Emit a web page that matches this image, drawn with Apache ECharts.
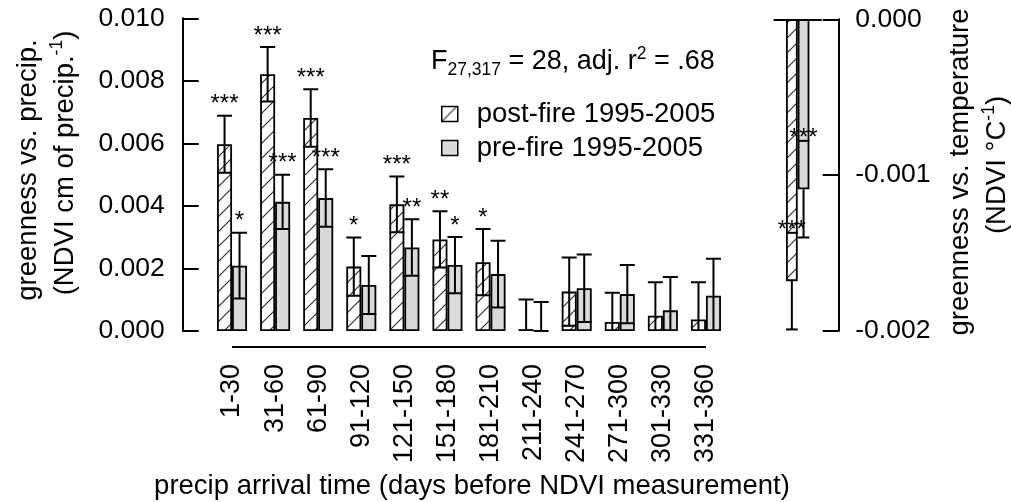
<!DOCTYPE html>
<html>
<head>
<meta charset="utf-8">
<script src="https://cdn.jsdelivr.net/npm/echarts@6/dist/echarts.min.js"></script>
<style>
	* { margin: 0; padding: 0; }
	body { background: #fff; }
	#main { width: 1011px; height: 502px; }
</style>
</head>
<body>
<div id="main"></div>
<script>
	// precip windows (days before NDVI measurement)
	var categories = ['1-30', '31-60', '61-90', '91-120', '121-150', '151-180', '181-210', '211-240', '241-270', '271-300', '301-330', '331-360']
	var postFire = [0.00597, 0.00821, 0.00681, 0.00206, 0.00405, 0.00293, 0.00220, 0.00006, 0.00126, 0.00029, 0.00049, 0.00037]
	var postErr = [0.00091, 0.00087, 0.00092, 0.00093, 0.00089, 0.00090, 0.00106, 0.00095, 0.00109, 0.00093, 0.00107, 0.00119]
	var postStars = ['***', '***', '***', '*', '***', '**', '*', '', '', '', '', '']
	var preFire = [0.00209, 0.00413, 0.00425, 0.00147, 0.00267, 0.00211, 0.00182, 0.0, 0.00137, 0.00118, 0.00066, 0.00113]
	var preErr = [0.00105, 0.00087, 0.00092, 0.00093, 0.00090, 0.00090, 0.00107, 0.00093, 0.00108, 0.00093, 0.00107, 0.00118]
	var preStars = ['*', '***', '***', '', '**', '*', '', '', '', '', '', '']

	// temperature effect (right panel)
	var tempCategories = ['temp']
	var tempPost = [-0.00168]
	var tempPostErr = [0.00031]
	var tempPre = [-0.00109]
	var tempPreErr = [0.00031]
	var tempStars = ['***']

	var FONT = '"Liberation Sans", Arial, sans-serif'
	var GREY = '#dadada'
	var TITLE = 27.5

	function hatch() {
		var c = document.createElement('canvas')
		c.width = 15
		c.height = 15
		var g = c.getContext('2d')
		g.fillStyle = '#fff'
		g.fillRect(0, 0, 15, 15)
		g.strokeStyle = '#2a2a2a'
		g.lineWidth = 1.1
		g.beginPath()
		g.moveTo(-2, 17); g.lineTo(17, -2)
		g.moveTo(-9.5, 9.5); g.lineTo(9.5, -9.5)
		g.moveTo(5.5, 24.5); g.lineTo(24.5, 5.5)
		g.stroke()
		return c
	}
	var hatchFill = { image: hatch(), repeat: 'repeat' }

	function seg(x1, y1, x2, y2) {
		return { type: 'line', shape: { x1: x1, y1: y1, x2: x2, y2: y2 }, style: { stroke: '#000', lineWidth: 2 } }
	}
	function star(x, y, s) {
		return { type: 'text', x: x, y: y, style: { text: s, fontSize: 24, fontFamily: FONT, fill: '#000', textAlign: 'center', textVerticalAlign: 'bottom' } }
	}

	// error bars for the precip panel (clipped at the zero line)
	function precipErr(offset, w, stars) {
		return function(params, api) {
			var i = api.value(0), v = api.value(1), e = api.value(2)
			var x = api.coord([i, v])[0] + offset
			var yHi = api.coord([i, v + e])[1]
			var yLo = api.coord([i, v - e])[1]
			var kids = [
				seg(x, yLo, x, yHi),
				seg(x - w / 2, yHi, x + w / 2, yHi),
				seg(x - w / 2, yLo, x + w / 2, yLo)
			]
			return { type: 'group', children: kids }
		}
	}

	// significance stars above the upper whisker
	function precipStars(offset, stars) {
		return function(params, api) {
			var i = api.value(0), v = api.value(1), e = api.value(2)
			var p = api.coord([i, v + e])
			var s = stars[params.dataIndex]
			if (!s) return null
			return star(p[0] + offset, p[1] + 1, s)
		}
	}

	// error bars for the temperature panel: whisker downward
	function tempErr(offset, w, stars) {
		return function(params, api) {
			var i = api.value(0), v = api.value(1), e = api.value(2)
			var p = api.coord([i, v])
			var x = p[0] + offset
			var yLo = api.coord([i, v - e])[1]
			var yHi = api.coord([i, v + e])[1]
			var kids = [seg(x, p[1], x, yLo), seg(x - w / 2, yLo, x + w / 2, yLo), seg(x - w / 2, yHi, x + w / 2, yHi)]
			if (stars[params.dataIndex]) kids.push(star(x, yHi + 10, stars[params.dataIndex]))
			return { type: 'group', children: kids }
		}
	}

	function pack(vals, errs) {
		return vals.map(function(v, i) { return [i, v, errs[i]] })
	}

	var chart = echarts.init(document.getElementById('main'))
	chart.setOption({
		animation: false,
		textStyle: { fontFamily: FONT },
		grid: [
			{ left: 210.5, top: 18.3, width: 517, height: 312.7 },
			{ left: 774.4, top: 19.3, width: 46.6, height: 311.7 }
		],
		legend: {
			data: ['post-fire 1995-2005', 'pre-fire 1995-2005'],
			orient: 'vertical',
			left: 441,
			top: 100,
			padding: 0,
			itemWidth: 16,
			itemHeight: 15,
			itemGap: 6,
			icon: 'rect',
			selectedMode: false,
			itemStyle: { borderColor: '#000', borderWidth: 1.5 },
			textStyle: { fontSize: TITLE, color: '#000', fontFamily: FONT, lineHeight: 28, padding: [0, 0, 0, 14] }
		},
		xAxis: [
			{
				type: 'category', gridIndex: 0, data: categories,
				axisLine: { show: false }, axisTick: { show: false },
				axisLabel: { rotate: 90, margin: 33, fontSize: 27, color: '#000', fontFamily: FONT, interval: 0 }
			},
			{
				type: 'category', gridIndex: 1, data: tempCategories, position: 'top',
				axisLine: { show: true, onZero: false, lineStyle: { color: '#000', width: 2 } },
				axisTick: { show: false }, axisLabel: { show: false }
			}
		],
		yAxis: [
			{
				type: 'value', gridIndex: 0, min: 0, max: 0.01, interval: 0.002, offset: 27.8,
				axisLine: { show: true, lineStyle: { color: '#000', width: 2 } },
				axisTick: { show: true, inside: true, length: 16, lineStyle: { color: '#000', width: 2 } },
				axisLabel: { margin: 18, fontSize: 26.5, color: '#000', fontFamily: FONT, formatter: function(v) { return v.toFixed(3) } },
				splitLine: { show: false }
			},
			{
				type: 'value', gridIndex: 1, position: 'right', min: -0.002, max: 0, interval: 0.001, offset: 17.3,
				axisLine: { show: true, lineStyle: { color: '#000', width: 2 } },
				axisTick: { show: true, inside: true, length: 15.6, lineStyle: { color: '#000', width: 2 } },
				axisLabel: { margin: 17, fontSize: 26.5, color: '#000', fontFamily: FONT, formatter: function(v) { return v.toFixed(3) } },
				splitLine: { show: false }
			}
		],
		series: [
			{
				name: 'post-fire 1995-2005', type: 'bar', xAxisIndex: 0, yAxisIndex: 0,
				barWidth: 15, barGap: '0%', data: postFire,
				itemStyle: { color: hatchFill, borderColor: '#000', borderWidth: 1.8 }
			},
			{
				name: 'pre-fire 1995-2005', type: 'bar', xAxisIndex: 0, yAxisIndex: 0,
				barWidth: 15, barGap: '0%', data: preFire,
				itemStyle: { color: GREY, borderColor: '#000', borderWidth: 1.8 }
			},
			{
				name: 'post-fire 1995-2005', type: 'bar', xAxisIndex: 1, yAxisIndex: 1,
				barWidth: 11.7, barGap: '0%', data: tempPost,
				itemStyle: { color: hatchFill, borderColor: '#000', borderWidth: 1.8 }
			},
			{
				name: 'pre-fire 1995-2005', type: 'bar', xAxisIndex: 1, yAxisIndex: 1,
				barWidth: 11.7, barGap: '0%', data: tempPre,
				itemStyle: { color: GREY, borderColor: '#000', borderWidth: 1.8 }
			},
			{
				type: 'custom', xAxisIndex: 0, yAxisIndex: 0, z: 5, clip: true,
				renderItem: precipErr(-7.5, 15), data: pack(postFire, postErr)
			},
			{
				type: 'custom', xAxisIndex: 0, yAxisIndex: 0, z: 5, clip: true,
				renderItem: precipErr(7.5, 15), data: pack(preFire, preErr)
			},
			{
				type: 'custom', xAxisIndex: 0, yAxisIndex: 0, z: 6,
				renderItem: precipStars(-7.5, postStars), data: pack(postFire, postErr)
			},
			{
				type: 'custom', xAxisIndex: 0, yAxisIndex: 0, z: 6,
				renderItem: precipStars(7.5, preStars), data: pack(preFire, preErr)
			},
			{
				type: 'custom', xAxisIndex: 1, yAxisIndex: 1, z: 5,
				renderItem: tempErr(-5.85, 11.7, tempStars), data: pack(tempPost, tempPostErr)
			},
			{
				type: 'custom', xAxisIndex: 1, yAxisIndex: 1, z: 5,
				renderItem: tempErr(5.85, 11.7, tempStars), data: pack(tempPre, tempPreErr)
			},
			{
				// category axis line, from first to last window
				type: 'custom', xAxisIndex: 0, yAxisIndex: 0, z: 5,
				renderItem: function(params, api) {
					var a = api.coord([0, 0]), b = api.coord([categories.length - 1, 0])
					return seg(a[0], a[1] + 16, b[0], b[1] + 16)
				},
				data: [[0, 0]]
			}
		],
		graphic: [
			{
				type: 'text', left: 431, top: 45,
				style: {
					text: '{m|F}{sub|27,317}{m| = 28, adj. r}{sup|2}{m| = .68}',
					rich: {
						m: { fontSize: 27, fontFamily: FONT, color: '#000', lineHeight: 34 },
						sub: { fontSize: 17.5, fontFamily: FONT, color: '#000', lineHeight: 17, verticalAlign: 'bottom' },
						sup: { fontSize: 17.5, fontFamily: FONT, color: '#000', lineHeight: 22, verticalAlign: 'top' }
					}
				}
			},
			{
				type: 'text', x: 28, y: 170, rotation: Math.PI / 2,
				style: { text: 'greenness vs. precip.', fontSize: TITLE, fontFamily: FONT, fill: '#000', textAlign: 'center', textVerticalAlign: 'middle' }
			},
			{
				type: 'text', x: 65, y: 163, rotation: Math.PI / 2,
				style: {
					text: '{m|(NDVI cm of precip.}{sup|-1}{m|)}', textAlign: 'center', textVerticalAlign: 'middle',
					rich: {
						m: { fontSize: TITLE, fontFamily: FONT, color: '#000', lineHeight: 34 },
						sup: { fontSize: 17.5, fontFamily: FONT, color: '#000', lineHeight: 22, verticalAlign: 'top' }
					}
				}
			},
			{
				type: 'text', x: 960, y: 172, rotation: Math.PI / 2,
				style: { text: 'greenness vs. temperature', fontSize: TITLE, fontFamily: FONT, fill: '#000', textAlign: 'center', textVerticalAlign: 'middle' }
			},
			{
				type: 'text', x: 997, y: 165, rotation: Math.PI / 2,
				style: {
					text: '{m|(NDVI \u00b0C}{sup|-1}{m|)}', textAlign: 'center', textVerticalAlign: 'middle',
					rich: {
						m: { fontSize: TITLE, fontFamily: FONT, color: '#000', lineHeight: 34 },
						sup: { fontSize: 17.5, fontFamily: FONT, color: '#000', lineHeight: 22, verticalAlign: 'top' }
					}
				}
			},
			{
				type: 'text', x: 472, y: 486,
				style: { text: 'precip arrival time (days before NDVI measurement)', fontSize: TITLE, fontFamily: FONT, fill: '#000', textAlign: 'center', textVerticalAlign: 'middle' }
			}
		]
	})
</script>
</body>
</html>
